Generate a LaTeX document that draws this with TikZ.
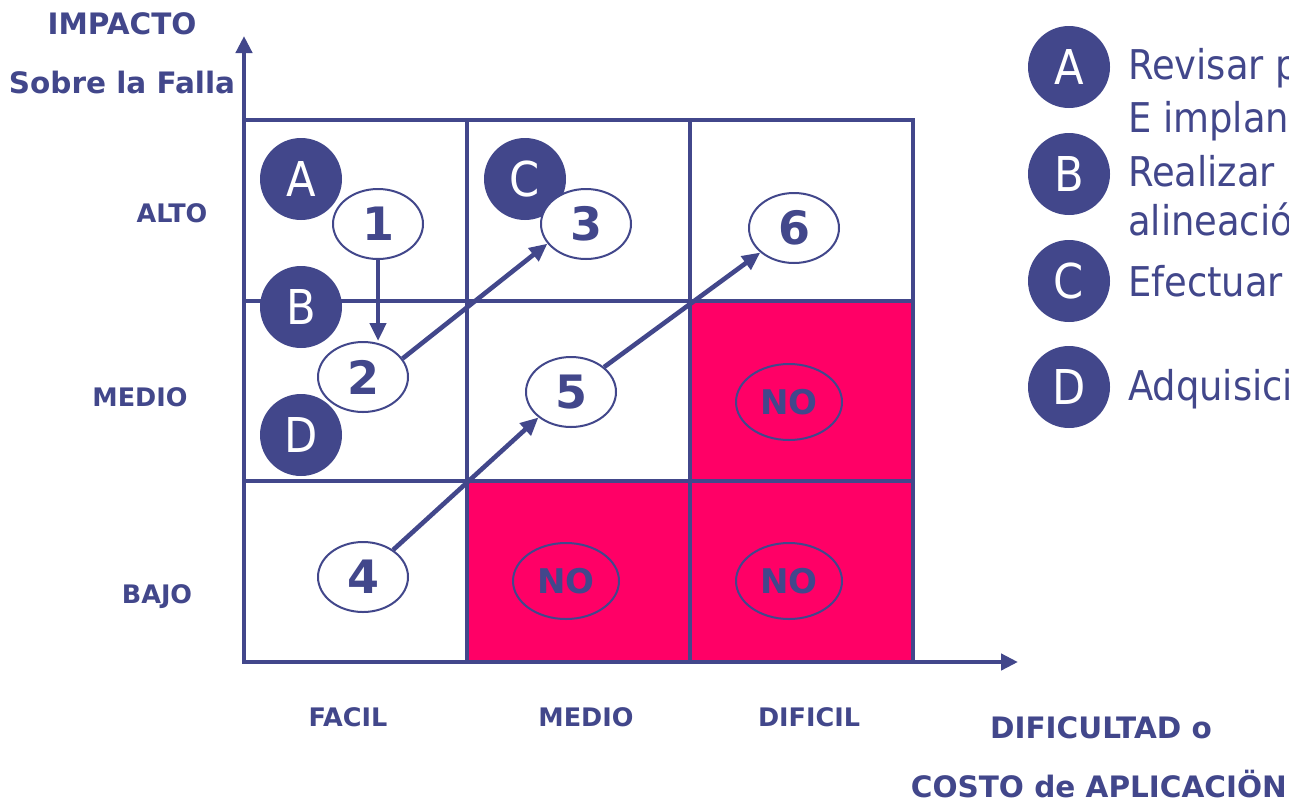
\documentclass[tikz,border=0pt]{standalone}
\usepackage{fontspec}
\setmainfont{DejaVu Sans}
\newfontfamily\condfont{DejaVu Sans Condensed}
\usetikzlibrary{shapes.geometric,arrows.meta}
\definecolor{navy}{RGB}{66,71,139}
\definecolor{hot}{RGB}{255,0,102}
\begin{document}
\begin{tikzpicture}[x=1pt,y=-1pt,
  gridline/.style={draw=navy,line width=4.6pt},
  axis/.style={navy,line width=4.6pt,-{Triangle[length=17pt,width=16pt]}},
  conn/.style={navy,line width=4.6pt,-{Triangle[length=18pt,width=16pt]}},
  num/.style={ellipse,draw=navy,line width=2pt,fill=white,minimum width=90pt,minimum height=70pt,inner sep=0pt,text=navy,font=\bfseries\fontsize{46}{46}\selectfont},
  nobox/.style={ellipse,draw=navy,line width=2pt,minimum width=106pt,minimum height=76pt,inner sep=0pt,text=navy,font=\bfseries\fontsize{34}{34}\selectfont},
  dot/.style={circle,fill=navy,minimum size=82pt,inner sep=0pt,text=white,font=\condfont\fontsize{48}{48}\selectfont},
  lab/.style={text=navy,inner sep=0pt,font=\bfseries\fontsize{29.5}{34}\selectfont},
  rowlab/.style={text=navy,inner sep=0pt,font=\bfseries\fontsize{25.5}{30}\selectfont},
  legtext/.style={anchor=base west,text=navy,inner sep=0pt,font=\condfont\fontsize{41}{41}\selectfont}]
\path[use as bounding box] (0,0) rectangle (1289,801);
\clip (0,0) rectangle (1289,801);
\fill[white] (0,0) rectangle (1289,801);
% red cells
\fill[hot] (467,481) rectangle (690,662);
\fill[hot] (690,481) rectangle (913,662);
\fill[hot] (690,301) rectangle (913,481);
% grid
\draw[gridline] (244,120) rectangle (913,662);
\draw[gridline] (467,120) -- (467,662);
\draw[gridline] (690,120) -- (690,662);
\draw[gridline] (244,301) -- (913,301);
\draw[gridline] (244,481) -- (913,481);
% axes
\coordinate (O) at (244,662);
\coordinate (ytip) at (244,36);
\coordinate (xtip) at (1018,662);
\draw[axis] (O) -- (ytip);
\draw[axis] (O) -- (xtip);
% axis labels
\node[lab] (imp) at (122,24) {IMPACTO};
\node[lab] (sob) at (122,82) {Sobre la Falla};
\node[rowlab] (alto) at (172,213) {ALTO};
\node[rowlab] (medr) at (140,397) {MEDIO};
\node[rowlab] (bajo) at (157,597) {BAJO};
\node[rowlab] (fac) at (348,717) {FACIL};
\node[rowlab] (medc) at (586,717) {MEDIO};
\node[rowlab] (dif) at (809,717) {DIFICIL};
\node[lab] (dc1) at (1101,728) {DIFICULTAD o};
\node[lab,anchor=east] (dc2) at (1287,784) {COSTO de APLICACIÖN};
% dark circles in grid
\node[dot] (gA) at (301,179) {A};
\node[dot] (gB) at (301,307) {B};
\node[dot] (gC) at (525,179) {C};
\node[dot] (gD) at (301,435) {D};
% numbered ellipses
\node[num] (e1) at (378,224) {\raisebox{-4pt}{1}};
\node[num] (e3) at (586,224) {\raisebox{-4pt}{3}};
\node[num] (e6) at (794,228) {\raisebox{-4pt}{6}};
\node[num] (e2) at (363,377) {\raisebox{-4pt}{2}};
\node[num] (e5) at (571,392) {\raisebox{-4pt}{5}};
\node[num] (e4) at (363,577) {\raisebox{-4pt}{4}};
\node[nobox] (n1) at (789,402) {NO};
\node[nobox] (n2) at (566,581) {NO};
\node[nobox] (n3) at (789,581) {NO};
% connectors
\draw[conn] (e1.south) -- (e1.south |- e2.north);
\draw[conn] (e2.25) -- (e3.207);
\draw[conn] (e4.42) -- (e5.218);
\draw[conn] (e5.37) -- (e6.216);
% legend
\node[dot] (lA) at (1069,67) {A};
\node[dot] (lB) at (1069,174) {B};
\node[dot] (lC) at (1069,281) {C};
\node[dot] (lD) at (1069,387) {D};
\node[legtext] (tA1) at (1128,79) {Revisar p};
\node[legtext] (tA2) at (1128,132) {E implan};
\node[legtext] (tB1) at (1128,186) {Realizar};
\node[legtext] (tB2) at (1128,235) {alineació};
\node[legtext] (tC) at (1128,296) {Efectuar};
\node[legtext] (tD) at (1128,400) {Adquisici};
\end{tikzpicture}
\end{document}
